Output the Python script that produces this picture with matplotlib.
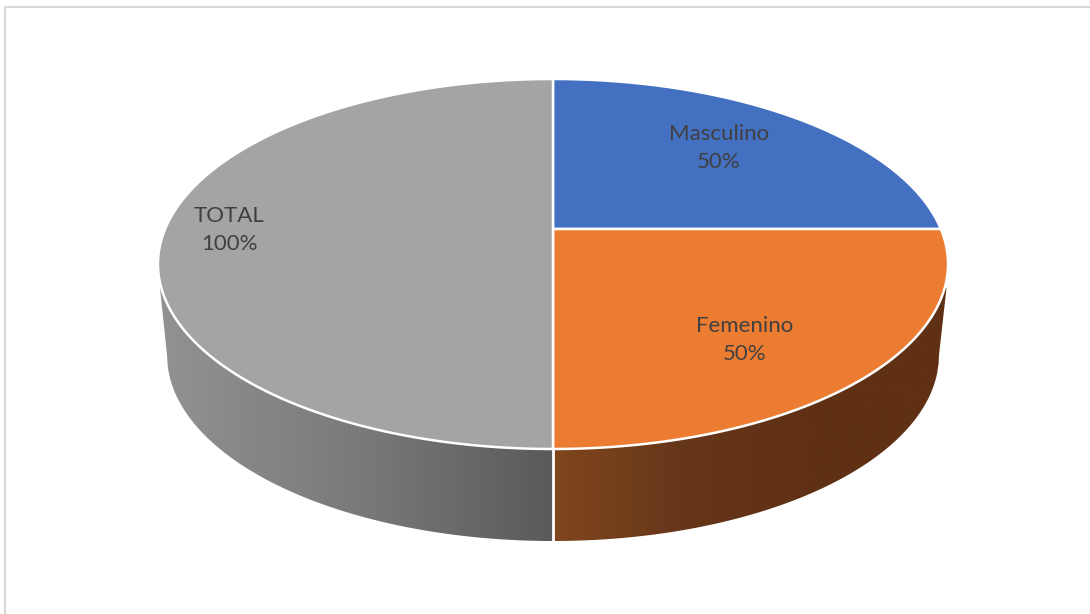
import numpy as np
from matplotlib import pyplot as plt
from matplotlib.colors import to_rgb
from matplotlib.patches import Polygon

categories = ["Masculino", "Femenino", "TOTAL"]
values = [50, 50, 100]

COLORS = ["#4370C1", "#EB7C31", "#A4A4A4"]
LABEL_POS = [(719, 148), (745, 340), (229, 230)]
# shade of the side wall, left to right
WALL_COLORS = {1: ["#80461C", "#65361A", "#5F3013", "#5F3013"], 2: ["#929292", "#7A7A7A", "#5A5A5A"]}

CX, CY, RX, RY = 553, 264, 395, 185
LOW_CY, LOW_RX, LOW_RY = 355, 386, 186
APEX_Y = 229
WALL_TOP = 288


def rim(frac):
    # point on the top ellipse hit by the ray from the (off centre) apex
    a = 2 * np.pi * frac
    dx, dy = np.sin(a), -np.cos(a)
    oy = (APEX_Y - CY) / RY
    b = oy * dy
    t = -b + np.sqrt(b * b - (oy * oy - 1))
    return CX + RX * t * dx, CY + RY * (oy + t * dy)


def wall_path(start, end):
    # along the upper rim, then back along the lower rim
    xs = np.linspace(start, end, 300)
    up = [(x, max(CY + RY * np.sqrt(1 - ((x - CX) / RX) ** 2), WALL_TOP)) for x in xs]
    lo_xs = np.clip(xs, CX - LOW_RX, CX + LOW_RX)
    lo = [(x, LOW_CY + LOW_RY * np.sqrt(1 - ((x - CX) / LOW_RX) ** 2)) for x in lo_xs]
    return np.array(up + lo[::-1])


fig = plt.figure(figsize=(10.9, 6.14), dpi=100)
ax = fig.add_axes([0, 0, 1, 1])
ax.axis("off")

# chart frame
ax.plot([5, 5, 1090], [614, 6.5, 6.5], color="#D9D9D9", lw=1.5)

shares = np.array(values) / sum(values)
edges = np.concatenate([[0], np.cumsum(shares)])

# walls
bounds = {1: (CX, CX + RX - 1.5), 2: (CX - RX + 2, CX)}
for idx, (x0, x1) in bounds.items():
    patch = Polygon(wall_path(x0, x1), closed=True, fc="none", ec="none")
    ax.add_patch(patch)
    rgb = np.array([to_rgb(c) for c in WALL_COLORS[idx]])
    pos = np.linspace(0, 1, len(rgb))
    t = np.linspace(0, 1, 256)
    grad = np.stack([np.interp(t, pos, rgb[:, i]) for i in range(3)], axis=1)[None, :, :]
    im = ax.imshow(grad, extent=(x0, x1, 560, 270), aspect="auto", zorder=2)
    im.set_clip_path(patch)
ax.set_xlim(0, 1090)
ax.set_ylim(614, 0)

# divider between the walls
ax.plot([CX, CX], [CY + RY, LOW_CY + LOW_RY], color="white", lw=2, zorder=3)

# top slices
for i, name in enumerate(categories):
    fr = np.linspace(edges[i], edges[i + 1], 200)
    pts = [(CX, APEX_Y)] + [rim(f) for f in fr]
    ax.add_patch(Polygon(pts, closed=True, fc=COLORS[i], ec="white", lw=1.8, zorder=4, joinstyle="round"))
    x, y = LABEL_POS[i]
    ax.text(x, y, f"{name}\n{values[i]}%", ha="center", va="center", fontsize=16, family="Lato",
            color="#404040", linespacing=1.55, zorder=5)

fig.savefig("out.png", dpi=100)
